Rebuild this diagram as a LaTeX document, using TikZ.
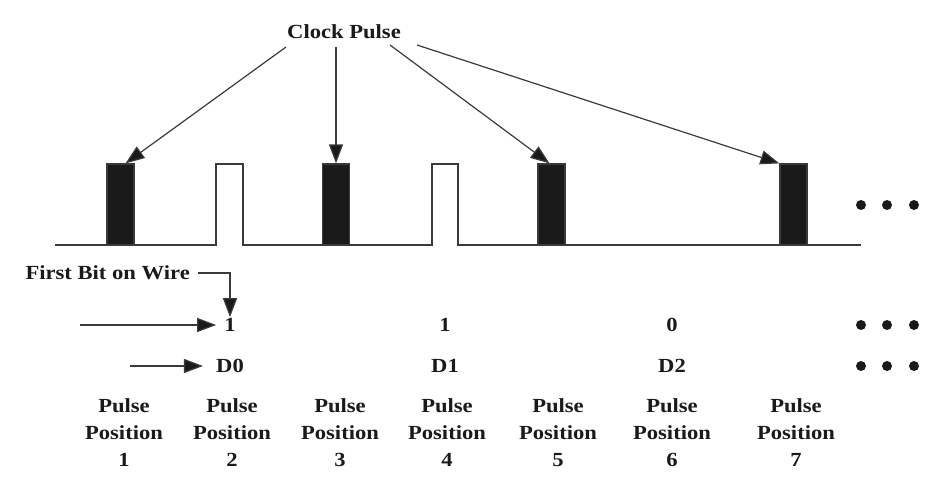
\documentclass[tikz,border=0pt]{standalone}
\usepackage{fontspec}
\setmainfont{Liberation Serif}[FakeStretch=1.13]
\usetikzlibrary{arrows.meta,calc,positioning}
\definecolor{ink}{HTML}{1A1A1A}
\definecolor{wirec}{HTML}{3A3A3A}

\tikzset{
  lbl/.style={font=\fontsize{20}{27}\selectfont\bfseries,text=ink,inner sep=1pt},
  pulsebar/.style={draw=wirec,fill=ink,line width=1.2pt,minimum width=27pt,minimum height=81pt,inner sep=0pt},
  wire/.style={draw=wirec,line width=1.2pt},
  tip/.style={wire,-{Triangle[length=19pt,width=14pt,fill=ink]}},
  dotrow/.style={fill=ink}
}

\begin{document}
\begin{tikzpicture}[x=1pt,y=-1pt]
\useasboundingbox (0,0) rectangle (939,479);

% line on the wire with the two open pulses
\draw[wire] (55,245) -| (216,164) -| (243,245) -| (432,164) -| (458,245) -- (861,245);

% clock pulses
\foreach \n/\xx in {1/120.5,2/336,3/551.5,4/793.5}
  \node[pulsebar] (p\n) at (\xx,204.5) {};

\node[lbl] (clk) at (344,32) {Clock Pulse};
\coordinate (c1) at (286,47);
\coordinate (c2) at (336,47);
\coordinate (c3) at (390,45);
\coordinate (c4) at (417,45);
\draw[tip] (c1) -- ($(p1.north)+(5,0)$);
\draw[tip] (c2) -- (p2.north);
\draw[tip] (c3) -- ($(p3.north)+(-2,0)$);
\draw[tip] (c4) -- (p4.north west);

% bits and data
\node[lbl,anchor=east] (first) at (191,273) {First Bit on Wire};
\foreach \n/\xx/\bb in {0/230/1,1/445/1,2/672/0}{
  \node[lbl] (b\n) at (\xx,325) {\bb};
  \node[lbl] (d\n) at (\xx,366) {D\n};
}
\coordinate (bitin) at (80,325);
\coordinate (datin) at (130,366);
\draw[tip] (first.east) ++(7,0) -| (b0.north);
\draw[tip,shorten >=7pt] (bitin) -- (b0.west);
\draw[tip,shorten >=12pt] (datin) -- (d0.west);

% continuation dots
\foreach \yy in {205,325,366}
  \foreach \xx in {861,887,914}
    \fill[dotrow] (\xx,\yy) circle (5pt);

% pulse positions
\foreach \n/\xx in {1/124,2/232,3/340,4/447,5/558,6/672,7/796}
  \node[lbl,align=center] (pos\n) at (\xx,433) {Pulse\\Position\\\n};
\end{tikzpicture}
\end{document}
